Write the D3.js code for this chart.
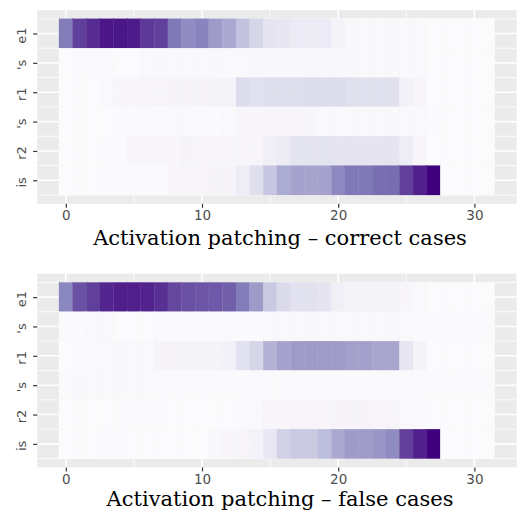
<!DOCTYPE html>
<html>
<head>
<meta charset="utf-8">
<script src="https://cdn.jsdelivr.net/npm/d3@7"></script>
<style>
  html, body { margin: 0; padding: 0; background: #fff; }
  svg { display: block; }
</style>
</head>
<body>
<svg id="chart" width="522" height="518"></svg>
<script>
// ---------- data ----------
const layers = [0,1,2,3,4,5,6,7,8,9,10,11,12,13,14,15,16,17,18,19,20,21,22,23,24,25,26,27,28,29,30,31];
const tokens = ["e1", "'s", "r1", "'s", "r2", "is"];
const xTicks = [0, 10, 20, 30];
const titles = ["Activation patching \u2013 correct cases", "Activation patching \u2013 false cases"];

const correctE1 = [0.62,0.8,0.86,0.93,0.93,0.91,0.82,0.8,0.63,0.56,0.59,0.5,0.45,0.35,0.26,0.18,0.17,0.14,0.14,0.14,0.07,0.03,0.03,0.03,0.03,0.03,0.03,0.01,0.01,0.01,0.01,0.01];
const correctS1 = [0.01,0.02,0.02,0.02,0.01,0.01,0.03,0.03,0.03,0.03,0.03,0.03,0.03,0.03,0.03,0.035,0.035,0.035,0.035,0.035,0.035,0.03,0.03,0.03,0.03,0.03,0.03,0.01,0.01,0.01,0.01,0.01];
const correctR1 = [0.01,0.01,0.01,0.03,0.04,0.04,0.05,0.05,0.06,0.06,0.06,0.06,0.07,0.23,0.2,0.22,0.22,0.22,0.23,0.23,0.23,0.21,0.21,0.21,0.21,0.08,0.05,0.01,0.01,0.01,0.01,0.01];
const correctS2 = [0.01,0.01,0.01,0.01,0.02,0.02,0.02,0.02,0.03,0.03,0.02,0.01,0.02,0.04,0.04,0.04,0.04,0.04,0.04,0.03,0.03,0.03,0.03,0.03,0.03,0.03,0.03,0.02,0.01,0.01,0.01,0.01];
const correctR2 = [0.01,0.01,0.01,0.02,0.02,0.04,0.04,0.04,0.04,0.06,0.05,0.05,0.05,0.05,0.05,0.1,0.13,0.19,0.19,0.19,0.18,0.18,0.18,0.18,0.18,0.12,0.05,0.01,0.01,0.01,0.01,0.01];
const correctIs = [0.01,0.01,0.01,0.02,0.02,0.02,0.02,0.02,0.04,0.05,0.05,0.06,0.06,0.12,0.22,0.33,0.44,0.47,0.47,0.47,0.57,0.63,0.63,0.67,0.67,0.8,0.9,1.0,0.01,0.01,0.01,0.01];

const falseE1 = [0.58,0.75,0.8,0.88,0.9,0.9,0.89,0.85,0.78,0.75,0.74,0.73,0.71,0.62,0.5,0.32,0.24,0.2,0.2,0.18,0.1,0.07,0.07,0.07,0.07,0.04,0.03,0.01,0.01,0.01,0.01,0.01];
const falseS1 = [0.02,0.02,0.03,0.03,0.01,0.01,0.01,0.02,0.02,0.02,0.02,0.02,0.02,0.02,0.02,0.03,0.03,0.03,0.03,0.03,0.025,0.025,0.025,0.025,0.025,0.025,0.02,0.02,0.02,0.02,0.02,0.02];
const falseR1 = [0.01,0.02,0.02,0.03,0.03,0.03,0.03,0.06,0.06,0.07,0.07,0.07,0.09,0.2,0.26,0.41,0.47,0.5,0.5,0.5,0.5,0.48,0.48,0.46,0.46,0.17,0.07,0.01,0.01,0.01,0.01,0.01];
const falseS2 = [0.015,0.025,0.025,0.025,0.025,0.025,0.025,0.015,0.015,0.015,0.015,0.015,0.015,0.015,0.015,0.015,0.015,0.015,0.015,0.015,0.015,0.015,0.015,0.015,0.015,0.015,0.015,0.015,0.015,0.015,0.015,0.015];
const falseR2 = [0.01,0.01,0.01,0.01,0.01,0.02,0.02,0.02,0.01,0.01,0.005,0.01,0.01,0.02,0.03,0.04,0.04,0.05,0.05,0.05,0.06,0.06,0.06,0.05,0.05,0.03,0.02,0.01,0.01,0.01,0.01,0.01];
const falseIs = [0.01,0.01,0.01,0.02,0.02,0.01,0.01,0.01,0.01,0.01,0.01,0.03,0.04,0.05,0.08,0.16,0.28,0.32,0.32,0.37,0.45,0.5,0.5,0.52,0.56,0.8,0.9,1.0,0.01,0.01,0.01,0.01];

const panelsData = [
  [correctE1, correctS1, correctR1, correctS2, correctR2, correctIs],
  [falseE1, falseS1, falseR1, falseS2, falseR2, falseIs]
];

// ---------- layout ----------
const svg = d3.select("#chart");
svg.append("rect").attr("width", 522).attr("height", 518).attr("fill", "#fff");

const panelLeft = 37.2, panelRight = 516.6, panelH = 193.8;
const panelTops = [10, 273.6];
const titleY = [245, 506];

const color = d3.scaleSequential(d3.interpolatePurples).domain([0, 1]);
const x = d3.scaleLinear().domain([-2.1, 33.1]).range([panelLeft, panelRight]);

panelsData.forEach((rows, p) => {
  const top = panelTops[p];
  const y = d3.scaleLinear().domain([0.2, 6.8]).range([top, top + panelH]);
  const g = svg.append("g");

  // panel background
  g.append("rect")
    .attr("x", panelLeft).attr("y", top)
    .attr("width", panelRight - panelLeft).attr("height", panelH)
    .attr("fill", "#ebebeb");

  // grid lines
  const xMinor = [5, 15, 25];
  g.selectAll(".vminor").data(xMinor).enter().append("line")
    .attr("x1", d => x(d)).attr("x2", d => x(d))
    .attr("y1", top).attr("y2", top + panelH)
    .attr("stroke", "#fff").attr("stroke-width", 0.8);
  g.selectAll(".vmajor").data(xTicks).enter().append("line")
    .attr("x1", d => x(d)).attr("x2", d => x(d))
    .attr("y1", top).attr("y2", top + panelH)
    .attr("stroke", "#fff").attr("stroke-width", 1.6);
  const yMinor = [0.5, 1.5, 2.5, 3.5, 4.5, 5.5, 6.5];
  g.selectAll(".hminor").data(yMinor).enter().append("line")
    .attr("x1", panelLeft).attr("x2", panelRight)
    .attr("y1", d => y(d)).attr("y2", d => y(d))
    .attr("stroke", "#fff").attr("stroke-width", 0.8);
  g.selectAll(".hmajor").data(tokens.map((t, i) => i + 1)).enter().append("line")
    .attr("x1", panelLeft).attr("x2", panelRight)
    .attr("y1", d => y(d)).attr("y2", d => y(d))
    .attr("stroke", "#fff").attr("stroke-width", 1.6);

  // tiles
  const cells = [];
  rows.forEach((vals, r) => vals.forEach((v, c) => cells.push({ row: r + 1, layer: layers[c], v })));
  g.selectAll(".tile").data(cells).enter().append("rect")
    .attr("x", d => x(d.layer - 0.5))
    .attr("y", d => y(d.row - 0.5))
    .attr("width", d => x(d.layer + 0.5) - x(d.layer - 0.5))
    .attr("height", d => y(d.row + 0.5) - y(d.row - 0.5))
    .attr("fill", d => color(d.v))
    .attr("stroke", d => color(d.v))
    .attr("stroke-width", 0.3);

  // x axis
  const xAxis = d3.axisBottom(x).tickValues(xTicks).tickSize(4).tickPadding(3);
  const xa = g.append("g").attr("transform", `translate(0,${top + panelH})`).call(xAxis);
  xa.select(".domain").remove();
  xa.selectAll(".tick line").attr("stroke", "#333").attr("stroke-width", 1.2);
  xa.selectAll(".tick text")
    .attr("fill", "#4d4d4d").attr("font-family", "DejaVu Sans")
    .attr("font-size", 13.5).attr("dy", "0.71em");

  // y axis
  const yAxis = d3.axisLeft(y).tickValues([1, 2, 3, 4, 5, 6]).tickFormat(d => tokens[d - 1]).tickSize(4).tickPadding(3);
  const ya = g.append("g").attr("transform", `translate(${panelLeft},0)`).call(yAxis);
  ya.select(".domain").remove();
  ya.selectAll(".tick line").attr("stroke", "#333").attr("stroke-width", 1.2);
  ya.selectAll(".tick text")
    .attr("fill", "#4d4d4d").attr("font-family", "DejaVu Sans")
    .attr("font-size", 13)
    .attr("x", null).attr("dy", null)
    .attr("text-anchor", "middle")
    .attr("transform", "translate(-11.5,1.5) rotate(-90)");

  // title
  svg.append("text")
    .attr("x", 280).attr("y", titleY[p])
    .attr("text-anchor", "middle")
    .attr("font-family", "DejaVu Serif")
    .attr("font-size", 21)
    .attr("fill", "#000")
    .text(titles[p]);
});
</script>
</body>
</html>
